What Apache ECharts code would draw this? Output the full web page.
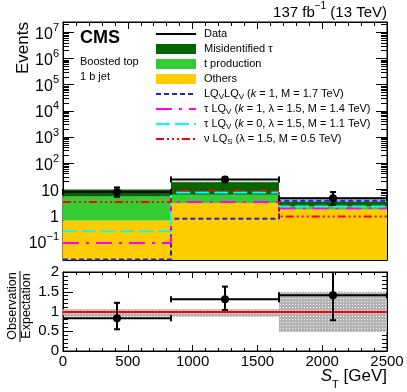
<!DOCTYPE html>
<html><head><meta charset="utf-8">
<script src="https://cdn.jsdelivr.net/npm/echarts@6/dist/echarts.min.js"></script>
<style>html,body{margin:0;padding:0;background:#fff}#c{width:407px;height:392px}</style>
</head><body><div id="c"></div>
<script>
const FONT = '"Liberation Sans", Arial, Helvetica, sans-serif';

// ---- data ----
const binEdges = [0, 833.33, 1666.67, 2500];
const others = [0.65, 3.0, 1.75];
const tProduction = [4.65, 3.3, 0.55];
const misidTau = [4.3, 12.5, 1.1];
const dataVal = [8, 24, 4.6];
const dataLo = [5.2, 19.2, 2.6];
const dataHi = [11.9, 29.5, 7.9];
const bkgUncLo = [8.3, 16.3, 1.6];
const bkgUncHi = [10.3, 19.9, 5.1];
const sigLQLQ = [0.021, 0.75, 3.7];
const sigTauLQk1 = [0.089, 3.3, 1.9];
const sigTauLQk0 = [0.25, 7.6, 2.2];
const sigNuLQs = [3.3, 9.0, 0.92];
const ratioVal = [0.83, 1.31, 1.41];
const ratioLo = [0.55, 1.04, 0.78];
const ratioHi = [1.22, 1.63, 2.1];
const ratioBandLo = [0.87, 0.87, 0.48];
const ratioBandHi = [1.06, 1.06, 1.50];
const mainYLabels = [0.1, 1, 10, 100, 1e3, 1e4, 1e5, 1e6, 1e7];
const xTickInterval = 500;
const ratioYInterval = 0.5;

const Y_MIN = 0.02, Y_MAX = 2.5e7;

// minor log ticks (axis decoration)
const minorY = [];
for (let e = -2; e <= 7; e++) for (let k = 2; k <= 9; k++) {
  const v = k * Math.pow(10, e);
  if (v >= Y_MIN && v <= Y_MAX) minorY.push(v);
}

// cumulative stack
const cum1 = others.slice();
const cum2 = others.map((v, i) => v + tProduction[i]);
const cum3 = cum2.map((v, i) => v + misidTau[i]);
const floorArr = others.map(() => Y_MIN);

function makePattern() {
  const c = document.createElement('canvas');
  c.width = 3; c.height = 3;
  const g = c.getContext('2d');
  g.fillStyle = '#b4b4b4'; g.fillRect(0, 0, 3, 3);
  g.fillStyle = '#f0f0f0'; g.fillRect(1, 1, 1, 1);
  return { image: c, repeat: 'repeat' };
}
const pattern = makePattern();

function binData(vals) { return vals.map((v, i) => [(binEdges[i] + binEdges[i + 1]) / 2, v]); }
function stepData(vals) {
  const d = vals.map((v, i) => [binEdges[i], v]);
  d.push([binEdges[binEdges.length - 1], vals[vals.length - 1]]);
  return d;
}

function rectItem(lower, upper, fill) {
  return (params, api) => {
    const i = params.dataIndex;
    const a = api.coord([binEdges[i], upper[i]]);
    const b = api.coord([binEdges[i + 1], lower[i]]);
    return { type: 'rect', shape: { x: a[0], y: a[1], width: b[0] - a[0], height: b[1] - a[1] }, style: { fill: fill } };
  };
}

function pointItem(vals, lo, hi, capEnds) {
  return (params, api) => {
    const i = params.dataIndex;
    const xc = (binEdges[i] + binEdges[i + 1]) / 2;
    const pL = api.coord([binEdges[i], vals[i]]);
    const pR = api.coord([binEdges[i + 1], vals[i]]);
    const pC = api.coord([xc, vals[i]]);
    const pLo = api.coord([xc, lo[i]]);
    const pHi = api.coord([xc, hi[i]]);
    const st = { stroke: '#000', lineWidth: 2 };
    const ch = [
      { type: 'line', shape: { x1: pL[0], y1: pL[1], x2: pR[0], y2: pR[1] }, style: st },
      { type: 'line', shape: { x1: pLo[0], y1: pLo[1], x2: pHi[0], y2: pHi[1] }, style: st },
      { type: 'line', shape: { x1: pLo[0] - 3, y1: pLo[1], x2: pLo[0] + 3, y2: pLo[1] }, style: st },
      { type: 'line', shape: { x1: pHi[0] - 3, y1: pHi[1], x2: pHi[0] + 3, y2: pHi[1] }, style: st },
      { type: 'circle', shape: { cx: pC[0], cy: pC[1], r: 4 }, style: { fill: '#000' } }
    ];
    if (capEnds) {
      ch.push({ type: 'line', shape: { x1: pL[0], y1: pL[1] - 3, x2: pL[0], y2: pL[1] + 3 }, style: st });
      ch.push({ type: 'line', shape: { x1: pR[0], y1: pR[1] - 3, x2: pR[0], y2: pR[1] + 3 }, style: st });
    }
    return { type: 'group', children: ch };
  };
}

function xAxisDef(grid, pos, labels) {
  return {
    type: 'value', gridIndex: grid, position: pos, min: 0, max: 2500, interval: xTickInterval,
    axisLine: { show: true, onZero: false, lineStyle: { color: '#000', width: 1 } },
    axisTick: { show: true, inside: true, length: grid === 0 ? 7 : 6, lineStyle: { color: '#000' } },
    minorTick: { show: true, splitNumber: 5, length: grid === 0 ? 4 : 3, lineStyle: { color: '#000' } },
    axisLabel: { show: labels, color: '#000', fontFamily: FONT, fontSize: 15, margin: 3, formatter: v => String(v) },
    splitLine: { show: false }, minorSplitLine: { show: false }
  };
}
function mainY(pos, major) {
  return {
    type: 'log', logBase: 10, gridIndex: 0, position: pos, min: Y_MIN, max: Y_MAX,
    axisLine: { show: major, onZero: false, lineStyle: { color: '#000', width: 1 } },
    axisTick: { show: true, inside: true, length: major ? 11 : 6, customValues: major ? mainYLabels : minorY, lineStyle: { color: '#000' } },
    axisLabel: (major && pos === 'left') ? {
      show: true, customValues: mainYLabels, margin: 4,
      formatter: v => {
        const e = Math.round(Math.log10(v));
        if (e === 0) return '{b|1}';
        if (e === 1) return '{b|10}';
        return '{b|10}{s|' + (e < 0 ? '\u2212' + (-e) : e) + '}';
      },
      rich: {
        b: { fontSize: 16, fontFamily: FONT, color: '#000', lineHeight: 20, verticalAlign: 'bottom' },
        s: { fontSize: 11, fontFamily: FONT, color: '#000', lineHeight: 11, verticalAlign: 'top' }
      }
    } : { show: false },
    splitLine: { show: false }
  };
}
function ratioY(pos) {
  return {
    type: 'value', gridIndex: 1, position: pos, min: 0, max: 2, interval: ratioYInterval,
    axisLine: { show: true, onZero: false, lineStyle: { color: '#000', width: 1 } },
    axisTick: { show: true, inside: true, length: 10, lineStyle: { color: '#000' } },
    minorTick: { show: true, splitNumber: 5, length: 5, lineStyle: { color: '#000' } },
    axisLabel: { show: pos === 'left', color: '#000', fontFamily: FONT, fontSize: 15, margin: 4, formatter: v => String(v) },
    splitLine: { show: false }, minorSplitLine: { show: false }
  };
}

const legendNames = {
  'Data': '{n|Data}',
  'Misidentified τ': '{n|Misidentified τ}',
  't production': '{n|t production}',
  'Others': '{n|Others}',
  'LQLQ': '{n|LQ}{s|V}{n|LQ}{s|V}{n| (}{i|k}{n| = 1, M = 1.7 TeV)}',
  'tauLQ1': '{n|τ LQ}{s|V}{n| (}{i|k}{n| = 1, λ = 1.5, M = 1.4 TeV)}',
  'tauLQ0': '{n|τ LQ}{s|V}{n| (}{i|k}{n| = 0, λ = 1.5, M = 1.1 TeV)}',
  'nuLQs': '{n|ν LQ}{s|S}{n| (λ = 1.5, M = 0.5 TeV)}'
};

function sigSeries(name, vals, color, dash) {
  return {
    type: 'line', name: name, xAxisIndex: 0, yAxisIndex: 0, data: stepData(vals), step: 'end',
    symbol: 'none', showSymbol: false, z: 4, silent: true, animation: false,
    lineStyle: { color: color, width: 2, type: dash }, itemStyle: { color: color, opacity: 0 },
    emphasis: { disabled: true }
  };
}

const option = {
  animation: false,
  backgroundColor: '#fff',
  grid: [
    { left: 63, right: 20, top: 22, height: 238, show: true, borderColor: '#000', borderWidth: 1, backgroundColor: 'transparent', outerBoundsMode: 'none' },
    { left: 63, right: 20, top: 272, height: 79, show: true, borderColor: '#000', borderWidth: 1, backgroundColor: 'transparent', outerBoundsMode: 'none' }
  ],
  xAxis: [xAxisDef(0, 'bottom', false), xAxisDef(0, 'top', false), xAxisDef(1, 'bottom', true), xAxisDef(1, 'top', false)],
  yAxis: [mainY('left', true), mainY('left', false), mainY('right', true), mainY('right', false), ratioY('left'), ratioY('right')],
  legend: {
    orient: 'vertical', left: 155, top: 27, padding: 0, itemWidth: 40, itemHeight: 10, itemGap: 1,
    selectedMode: false,
    data: ['Data', { name: 'Misidentified τ', icon: 'rect' }, { name: 't production', icon: 'rect' }, { name: 'Others', icon: 'rect' },
      'LQLQ', 'tauLQ1', 'tauLQ0', 'nuLQs'],
    formatter: n => legendNames[n],
    textStyle: {
      fontFamily: FONT, fontSize: 11, color: '#000', lineHeight: 14, padding: [0, 0, 0, 3],
      rich: {
        n: { fontSize: 11, fontFamily: FONT, color: '#000', lineHeight: 14, verticalAlign: 'middle' },
        s: { fontSize: 8, fontFamily: FONT, color: '#000', lineHeight: 14, verticalAlign: 'bottom' },
        i: { fontSize: 11, fontFamily: FONT, color: '#000', fontStyle: 'italic', lineHeight: 14, verticalAlign: 'middle' }
      }
    }
  },
  graphic: [
    { type: 'text', x: 387, y: 11, style: { text: '{a|137 fb}{s|\u22121}{a| (13 TeV)}', align: 'right', verticalAlign: 'middle',
        rich: { a: { fontSize: 15, fontFamily: FONT, fill: '#000', lineHeight: 19, verticalAlign: 'bottom' }, s: { fontSize: 10, fontFamily: FONT, fill: '#000', lineHeight: 10, verticalAlign: 'top' } } } },
    { type: 'text', x: 80, y: 38, style: { text: 'CMS', font: 'bold 18px ' + FONT, fill: '#000', align: 'left', verticalAlign: 'middle' } },
    { type: 'text', x: 80, y: 62, style: { text: 'Boosted top', font: '11px ' + FONT, fill: '#000', align: 'left', verticalAlign: 'middle' } },
    { type: 'text', x: 80, y: 77, style: { text: '1 b jet', font: '11px ' + FONT, fill: '#000', align: 'left', verticalAlign: 'middle' } },
    { type: 'text', x: 23, y: 22, rotation: Math.PI / 2, style: { text: 'Events', font: '17px ' + FONT, fill: '#000', align: 'right', verticalAlign: 'middle' } },
    { type: 'text', x: 13, y: 306, rotation: Math.PI / 2, style: { text: 'Observation', font: '12.5px ' + FONT, fill: '#000', align: 'center', verticalAlign: 'middle' } },
    { type: 'text', x: 27, y: 306, rotation: Math.PI / 2, style: { text: 'Expectation', font: '12.5px ' + FONT, fill: '#000', align: 'center', verticalAlign: 'middle' } },
    { type: 'line', shape: { x1: 20, y1: 271, x2: 20, y2: 342 }, style: { stroke: '#000', lineWidth: 1 } },
    { type: 'text', x: 387, y: 379, style: { text: '{it|S}{sub|T}{a| [GeV]}', align: 'right', verticalAlign: 'middle',
        rich: { it: { fontSize: 17, fontFamily: FONT, fontStyle: 'italic', fill: '#000', lineHeight: 18, verticalAlign: 'top' },
                sub: { fontSize: 11, fontFamily: FONT, fill: '#000', lineHeight: 22, verticalAlign: 'bottom' },
                a: { fontSize: 17, fontFamily: FONT, fill: '#000', lineHeight: 18, verticalAlign: 'top' } } } }
  ],
  series: [
    { type: 'line', name: 'Data', xAxisIndex: 0, yAxisIndex: 0, data: [], symbol: 'none', lineStyle: { color: '#000', width: 2 }, itemStyle: { color: '#000', opacity: 0 } },
    { type: 'custom', name: 'unc', xAxisIndex: 0, yAxisIndex: 0, data: binData(bkgUncHi), z: 1, silent: true,
      renderItem: rectItem(bkgUncLo, bkgUncHi, pattern) },
    { type: 'custom', name: 'Others', xAxisIndex: 0, yAxisIndex: 0, data: binData(cum1), z: 2, silent: true,
      itemStyle: { color: '#ffcc00' }, renderItem: rectItem(floorArr, cum1, '#ffcc00') },
    { type: 'custom', name: 't production', xAxisIndex: 0, yAxisIndex: 0, data: binData(cum2), z: 2, silent: true,
      itemStyle: { color: '#33cc33' }, renderItem: rectItem(cum1, cum2, '#33cc33') },
    { type: 'custom', name: 'Misidentified τ', xAxisIndex: 0, yAxisIndex: 0, data: binData(cum3), z: 2, silent: true,
      itemStyle: { color: '#006600' }, renderItem: rectItem(cum2, cum3, '#006600') },
    sigSeries('LQLQ', sigLQLQ, '#2222dd', [5, 3]),
    sigSeries('tauLQ1', sigTauLQk1, '#ff00ff', [16, 7, 3, 7]),
    sigSeries('tauLQ0', sigTauLQk0, '#00ffff', [14, 5]),
    sigSeries('nuLQs', sigNuLQs, '#ff0000', [8, 3, 2, 3, 2, 3, 2, 3]),
    { type: 'custom', name: 'dataPts', xAxisIndex: 0, yAxisIndex: 0, data: binData(dataVal), z: 6, silent: true,
      renderItem: pointItem(dataVal, dataLo, dataHi, true) },
    { type: 'custom', name: 'ratioBand', xAxisIndex: 2, yAxisIndex: 4, data: binData(ratioBandHi), z: 1, silent: true,
      renderItem: rectItem(ratioBandLo, ratioBandHi, pattern),
      markLine: { silent: true, symbol: 'none', label: { show: false }, lineStyle: { color: '#ff0000', width: 2, type: 'solid' }, data: [{ yAxis: 1 }], animation: false } },
    { type: 'custom', name: 'ratioPts', xAxisIndex: 2, yAxisIndex: 4, data: binData(ratioVal), z: 6, silent: true, clip: true,
      renderItem: pointItem(ratioVal, ratioLo, ratioHi, true) }
  ]
};

const chart = echarts.init(document.getElementById('c'), null, { renderer: 'canvas' });
chart.setOption(option);
</script>
</body></html>
